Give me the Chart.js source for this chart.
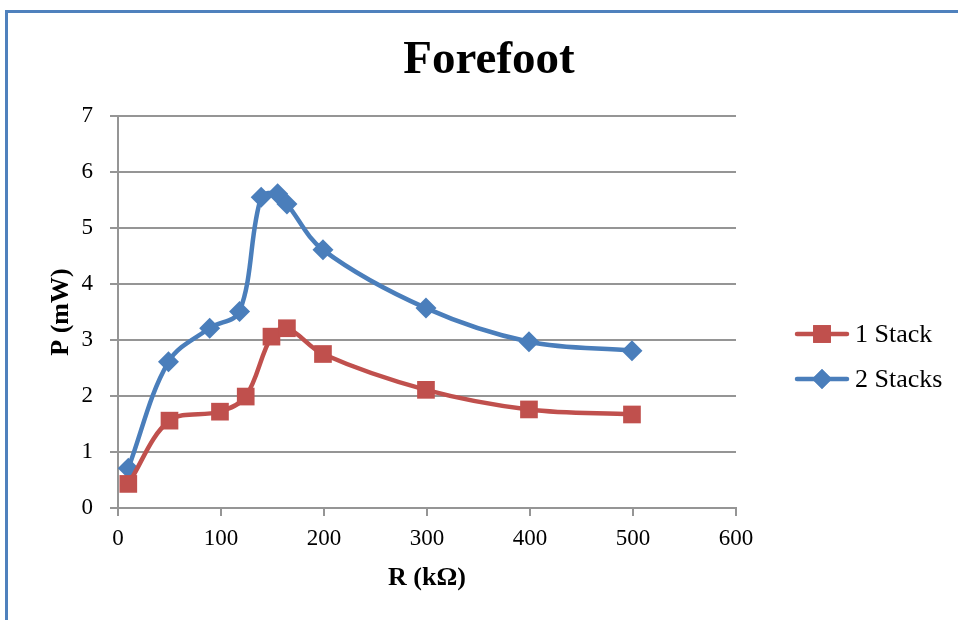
<!DOCTYPE html>
<html>
<head>
<meta charset="utf-8">
<title>Forefoot</title>
<script src="https://cdn.jsdelivr.net/npm/chart.js@4/dist/chart.umd.min.js"></script>
<style>
  html, body { margin: 0; padding: 0; background: #ffffff; overflow: hidden; }
  #wrap { position: relative; width: 958px; height: 620px; }
  #frame {
    position: absolute; left: 5px; top: 10px; width: 1200px; height: 900px;
    border-left: 3px solid #4F81BD; border-top: 3px solid #4F81BD;
    box-sizing: border-box; pointer-events: none;
  }
  canvas { position: absolute; left: 0; top: 0; }
</style>
</head>
<body>
<div id="wrap">
  <canvas id="chart" width="958" height="620"></canvas>
  <div id="frame"></div>
</div>
<script>
// Load resistance (kΩ) and output power (mW) for each stack configuration
const stack1R = [10, 50, 99, 124, 149, 164, 199, 299, 399, 499];
const stack1P = [0.43, 1.56, 1.72, 1.99, 3.06, 3.21, 2.75, 2.11, 1.76, 1.67];
const stack2R = [10, 49, 89, 118, 139, 155, 164, 199, 299, 399, 499];
const stack2P = [0.71, 2.61, 3.21, 3.51, 5.55, 5.61, 5.43, 4.61, 3.57, 2.97, 2.81];

const seriesNames = ['1 Stack', '2 Stacks'];
const chartTitle = 'Forefoot';
const xTitle = 'R (kΩ)';
const yTitle = 'P (mW)';

const RED = '#C0504D';
const BLUE = '#4A7EBB';
const GRID = '#959595';
const SERIF = '"Liberation Serif", "Times New Roman", serif';

const toPoints = (xs, ys) => xs.map((x, i) => ({ x: x, y: ys[i] }));

// Title and line-with-marker legend, drawn on the canvas
const decorations = {
  id: 'decorations',
  afterDraw(chart) {
    const ctx = chart.ctx;
    ctx.save();
    ctx.fillStyle = '#000';
    ctx.textAlign = 'center';
    ctx.textBaseline = 'alphabetic';
    ctx.font = 'bold 47px ' + SERIF;
    ctx.fillText(chartTitle, 489, 73);

    const items = [
      { name: seriesNames[0], color: RED, style: 'rect', radius: 12.5, y: 334 },
      { name: seriesNames[1], color: BLUE, style: 'rectRot', radius: 10, y: 379 }
    ];
    items.forEach(it => {
      ctx.strokeStyle = it.color;
      ctx.lineWidth = 4.5;
      ctx.lineCap = 'round';
      ctx.beginPath();
      ctx.moveTo(797, it.y);
      ctx.lineTo(847, it.y);
      ctx.stroke();
      ctx.fillStyle = it.color;
      Chart.helpers.drawPoint(ctx, { pointStyle: it.style, radius: it.radius, borderWidth: 0, rotation: 0 }, 822, it.y);
      ctx.fill();
      ctx.fillStyle = '#000';
      ctx.textAlign = 'left';
      ctx.textBaseline = 'middle';
      ctx.font = '26px ' + SERIF;
      ctx.fillText(it.name, 855, it.y + 1);
    });
    ctx.restore();
  }
};

new Chart(document.getElementById('chart'), {
  type: 'scatter',
  data: {
    datasets: [
      {
        label: seriesNames[0],
        data: toPoints(stack1R, stack1P),
        showLine: true,
        borderColor: RED,
        backgroundColor: RED,
        borderWidth: 4.5,
        tension: 0.35,
        pointStyle: 'rect',
        pointRadius: 12.5,
        pointHoverRadius: 12.5,
        pointBorderWidth: 0
      },
      {
        label: seriesNames[1],
        data: toPoints(stack2R, stack2P),
        showLine: true,
        borderColor: BLUE,
        backgroundColor: BLUE,
        borderWidth: 4.5,
        tension: 0.35,
        pointStyle: 'rectRot',
        pointRadius: 10.5,
        pointHoverRadius: 10.5,
        pointBorderWidth: 0
      }
    ]
  },
  options: {
    responsive: false,
    animation: false,
    events: [],
    layout: { autoPadding: false, padding: { left: 0, top: 116, right: 222, bottom: 0 } },
    plugins: {
      legend: { display: false },
      title: { display: false },
      tooltip: { enabled: false }
    },
    scales: {
      x: {
        type: 'linear',
        min: 0, max: 600,
        ticks: { stepSize: 100, color: '#000', padding: 9, font: { family: SERIF, size: 23 } },
        grid: { drawOnChartArea: false, drawTicks: true, tickLength: 8, color: GRID, lineWidth: 2 },
        border: { display: true, color: GRID, width: 2 },
        title: { display: true, text: xTitle, color: '#000', font: { family: SERIF, size: 26, weight: 'bold' }, padding: { top: 0, bottom: 26 } },
        afterFit(scale) { scale.height = 112; }
      },
      y: {
        type: 'linear',
        min: 0, max: 7,
        ticks: { stepSize: 1, color: '#000', padding: 17, font: { family: SERIF, size: 23 } },
        grid: { drawTicks: true, tickLength: 8, color: GRID, lineWidth: 2 },
        border: { display: true, color: GRID, width: 2 },
        title: { display: true, text: yTitle, color: '#000', font: { family: SERIF, size: 26, weight: 'bold' }, padding: { top: 46, bottom: 0 } },
        afterFit(scale) { scale.width = 118; }
      }
    }
  },
  plugins: [decorations]
});
</script>
</body>
</html>
